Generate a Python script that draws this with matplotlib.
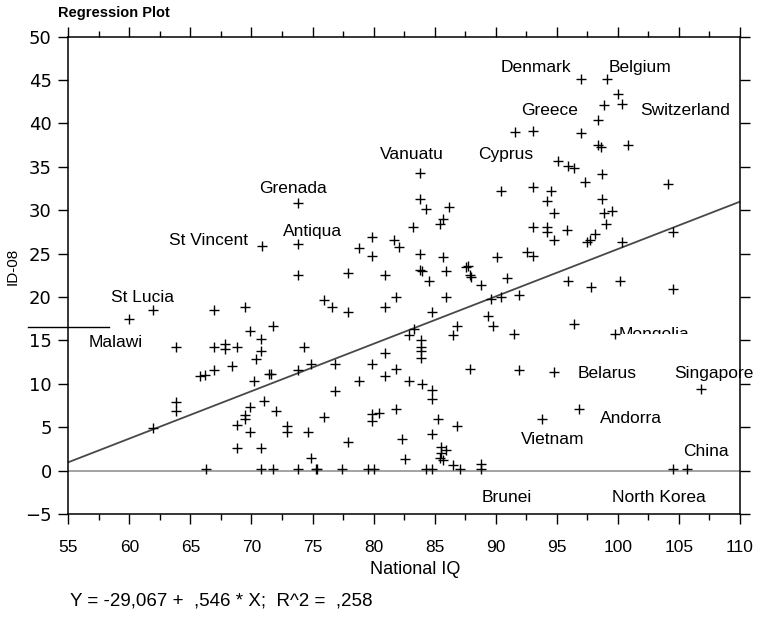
import matplotlib
matplotlib.use("Agg")
import matplotlib.pyplot as plt
from matplotlib.patches import Rectangle
from matplotlib.ticker import MultipleLocator

# national IQ (x) and ID-08 (y)
iq = [83.8, 90.4, 73.8, 83.8, 84.3, 86.2, 85.7, 85.4, 83.2, 73.8, 79.9, 78.8, 81.7, 82.1,
      79.9, 83.8, 85.7, 90.1, 87.7, 70.9,
      97.0, 99.1, 100.0, 100.3, 98.9, 98.4, 91.6, 93.05, 97.0, 98.4, 98.65, 100.8, 95.1,
      95.9, 96.4, 98.7, 97.3, 104.1, 93.05, 94.5, 94.2, 98.7, 94.8, 98.9, 99.5, 99.05,
      93.05, 94.2, 94.2, 95.8, 94.8, 98.1, 97.7, 97.5, 100.3, 104.5, 92.6, 93.05,
      60.0, 61.9, 63.8, 66.9, 69.5, 69.9, 71.8, 70.8, 70.8, 70.4, 66.9, 67.8, 67.8, 68.8,
      68.4, 65.8, 66.2, 66.9, 70.2, 71.4, 71.6, 63.8, 63.8, 61.9, 69.9, 71.0, 72.0, 69.5,
      69.5, 68.8, 69.9, 72.9, 72.9, 68.8, 70.8, 66.3, 70.8, 71.8,
      73.8, 77.9, 80.9, 83.8, 84.0, 84.5, 85.9, 87.6, 87.9, 88.0, 88.8, 90.9, 75.9, 76.6,
      77.9, 80.9, 81.8, 85.9, 84.8, 89.65, 90.4, 89.4, 89.8, 86.8, 86.5, 83.3, 82.9, 83.9,
      83.9, 83.9, 83.9, 74.3, 74.9, 73.8, 76.8, 79.9, 80.9, 81.8, 80.9, 78.8, 82.9, 84.0,
      84.8, 84.8, 87.9, 76.8, 75.9, 79.9, 80.4, 79.9, 81.8, 74.6, 77.9, 82.3, 85.3, 86.8,
      84.8, 85.5, 85.9, 85.5, 85.4, 85.7, 74.9, 82.6, 86.5, 88.8,
      73.8, 75.3, 75.4, 77.4, 79.5, 80.0, 84.25, 84.8, 87.05, 88.8,
      95.9, 97.8, 100.15, 104.5, 91.9, 96.4, 91.5, 99.8, 91.9, 94.8, 106.8, 96.8, 93.8,
      104.5, 105.7]
id08 = [34.3, 32.2, 30.8, 31.3, 30.1, 30.4, 29.0, 28.4, 28.1, 26.1, 26.9, 25.7, 26.6, 25.8,
        24.7, 25.0, 24.6, 24.6, 23.6, 25.9,
        45.15, 45.15, 43.4, 42.2, 42.1, 40.4, 39.0, 39.15, 38.9, 37.5, 37.3, 37.5, 35.7,
        35.1, 34.85, 34.15, 33.3, 33.0, 32.7, 32.2, 31.05, 31.3, 29.7, 29.7, 29.9, 28.4,
        28.1, 28.1, 27.5, 27.7, 26.6, 27.3, 26.6, 26.4, 26.4, 27.5, 25.2, 24.7,
        17.45, 18.55, 14.3, 18.55, 18.9, 16.05, 16.7, 15.2, 13.8, 12.85, 14.3, 14.6, 14.06, 14.3,
        12.0, 10.9, 11.0, 11.6, 10.3, 11.1, 11.1, 7.9, 6.85, 4.87, 7.3, 8.0, 6.9, 6.4,
        5.9, 5.3, 4.4, 5.1, 4.4, 2.55, 2.55, 0.2, 0.2, 0.2,
        22.5, 22.8, 22.5, 23.15, 23.0, 21.9, 23.0, 23.5, 22.5, 22.3, 21.4, 22.2, 19.7, 18.9,
        18.25, 18.9, 20.0, 20.0, 18.25, 19.8, 20.0, 17.8, 16.7, 16.7, 15.6, 16.35, 15.6, 15.1,
        14.2, 13.8, 13.0, 14.2, 12.3, 11.6, 12.3, 12.3, 13.5, 11.7, 10.9, 10.3, 10.3, 10.0,
        9.25, 8.25, 11.75, 9.2, 6.2, 6.5, 6.6, 5.7, 7.1, 4.4, 3.3, 3.65, 5.9, 5.1,
        4.2, 2.7, 2.4, 2.0, 1.45, 1.2, 1.45, 1.3, 0.6, 0.8,
        0.2, 0.2, 0.2, 0.2, 0.2, 0.2, 0.2, 0.2, 0.2, 0.2,
        21.9, 21.1, 21.9, 20.9, 20.2, 16.9, 15.7, 15.7, 11.55, 11.4, 9.35, 7.1, 6.0,
        0.2, 0.2]

# country labels
lab_names = ["Denmark", "Belgium", "Greece", "Cyprus", "Vanuatu", "Grenada", "Antiqua",
             "St Vincent", "St Lucia", "Malawi", "Belarus", "Andorra", "Vietnam", "China",
             "Brunei", "North Korea"]
lab_x = [93.3, 101.8, 94.4, 90.8, 83.1, 73.4, 75.0, 66.5, 61.1, 58.9, 99.1, 101.1, 94.7,
         107.2, 90.9, 103.35]
lab_y = [46.5, 46.5, 41.5, 36.4, 36.4, 32.5, 27.6, 26.5, 19.95, 14.75, 11.2, 6.0, 3.6,
         2.2, -3.15, -3.15]

intercept = -29.067
slope = 0.546

W, H = 757, 636
fig = plt.figure(figsize=(W / 100, H / 100), dpi=100)
ax = fig.add_axes([68.3 / W, 1 - 514 / H, (740 - 68.3) / W, (514 - 36.7) / H])

ax.plot(iq, id08, linestyle='none', marker='+', markersize=7, markeredgewidth=1.0,
        color='black', zorder=3)

xs = [55, 110]
ax.plot(xs, [intercept + slope * v for v in xs], color='#484848', lw=1.3, zorder=2)
ax.axhline(0, color='#8a8a8a', lw=1.1, zorder=1)
# short mark next to Malawi, drawn past the left axis
ax.plot([51.7, 58.3], [16.5, 16.5], color='black', lw=1.0, clip_on=False)

lab_font = ['Liberation Sans', 'DejaVu Sans']
for name, x, y in zip(lab_names, lab_x, lab_y):
    ax.text(x, y, name, ha='center', va='center', fontsize=12.5, family=lab_font, zorder=4)
ax.text(101.84, 41.5, "Switzerland", ha='left', va='center', fontsize=12.5, family=lab_font,
        clip_on=False)
ax.text(104.6, 11.2, "Singapore", ha='left', va='center', fontsize=12.5, family=lab_font,
        clip_on=False)
# Mongolia label is cut off at the bottom in the original
mong = ax.text(102.95, 15.7, "Mongolia", ha='center', va='center', fontsize=12.5,
               family=lab_font)
cut = Rectangle((95, 15.7), 15, 5, transform=ax.transData)
mong.set_clip_path(cut)
mong.set_clip_on(True)

ax.set_xlim(55, 110)
ax.set_ylim(-5, 50)
ax.xaxis.set_major_locator(MultipleLocator(5))
ax.xaxis.set_minor_locator(MultipleLocator(2.5))
ax.yaxis.set_major_locator(MultipleLocator(5))
ax.tick_params(axis='both', which='major', direction='out', length=7, width=1,
               top=True, right=True, color='black')
ax.tick_params(axis='x', which='minor', direction='out', length=4, width=1, top=True)
ax.tick_params(axis='x', which='major', pad=12)
ax.tick_params(axis='y', which='major', pad=5)
for t in ax.get_xticklabels():
    t.set_family(['Liberation Sans Narrow', 'Liberation Sans', 'DejaVu Sans'])
    t.set_fontsize(12.5)
for t in ax.get_yticklabels():
    t.set_family(['DejaVu Sans'])
    t.set_fontsize(13)
for s in ax.spines.values():
    s.set_linewidth(1.1)
    s.set_color('black')

fig.text(58 / W, 1 - 12.5 / H, "Regression Plot", fontsize=10.5, fontweight='bold',
         family=lab_font, va='center', ha='left')
fig.text(13 / W, 1 - 266 / H, "ID-08", rotation=90, fontsize=11, family=lab_font,
         va='center', ha='center')
fig.text(415 / W, 1 - 570 / H, "National IQ", fontsize=13, va='center', ha='center',
         family=['Liberation Sans Narrow', 'Liberation Sans', 'DejaVu Sans'])
fig.text(70 / W, 1 - 601 / H, "Y = -29,067 +  ,546 * X;  R^2 =  ,258", fontsize=13.5,
         va='center', ha='left', family=lab_font)

plt.savefig("out.png", dpi=100)
